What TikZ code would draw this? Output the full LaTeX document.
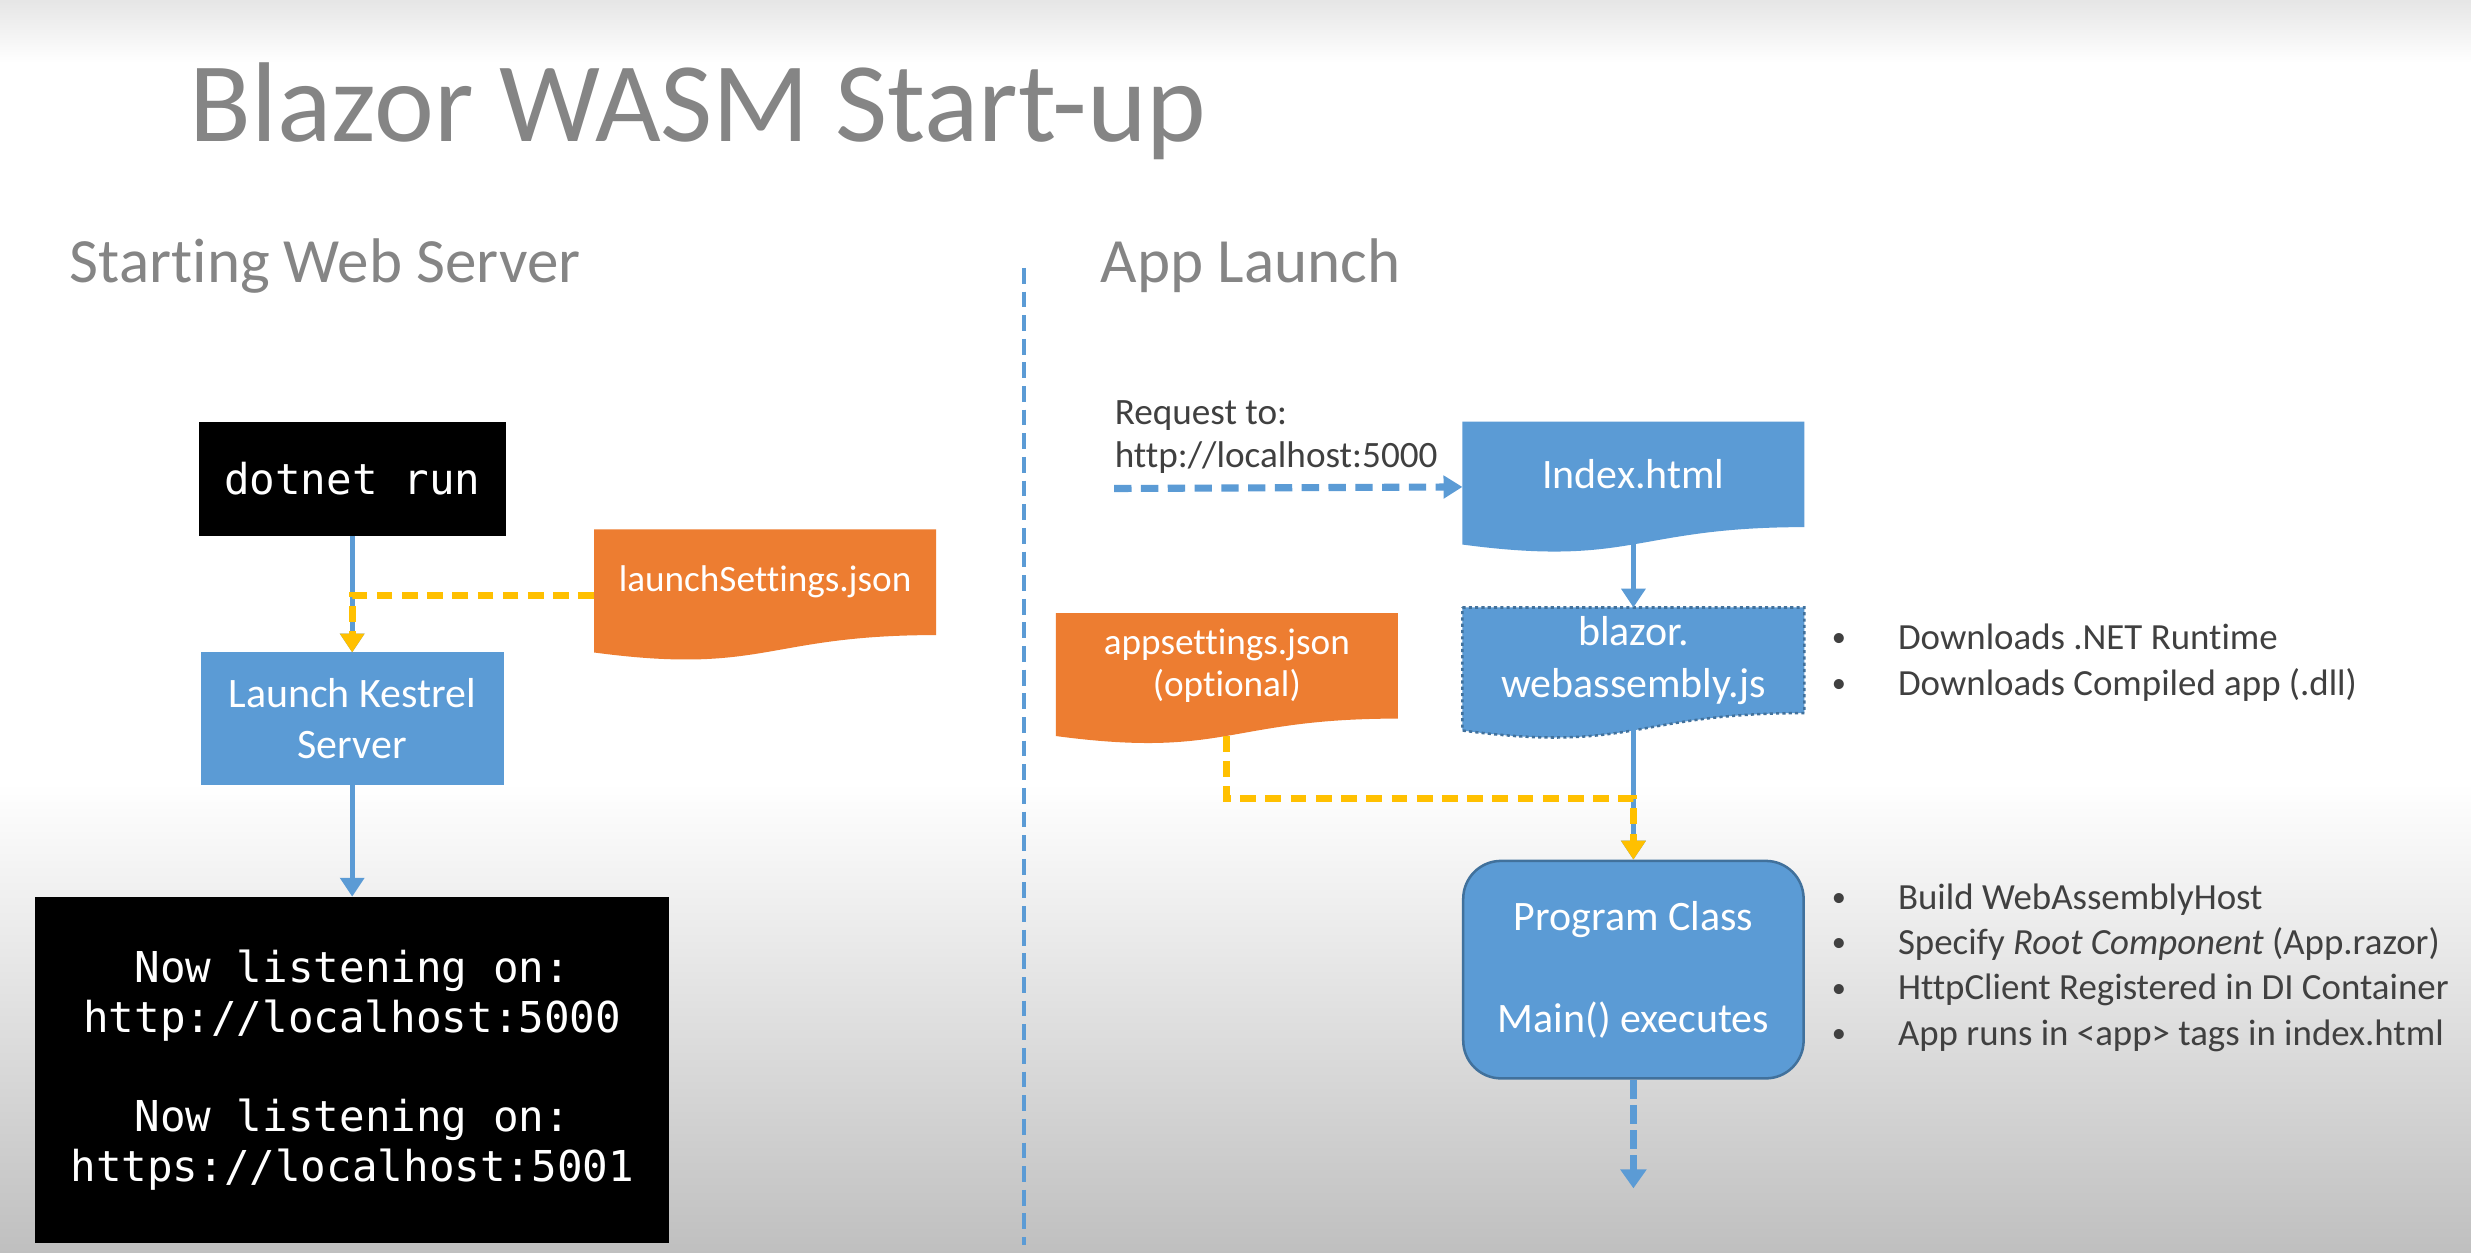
\documentclass[tikz,border=0pt]{standalone}
\usepackage{fontspec}
\setmainfont{Carlito}[Ligatures=NoCommon]
\setmonofont{DejaVu Sans Mono}
\usepackage{tikz}
\usetikzlibrary{arrows.meta, positioning, calc, backgrounds}
\definecolor{mblue}{HTML}{5B9BD5}
\definecolor{medge}{HTML}{41719C}
\definecolor{morange}{HTML}{ED7D31}
\definecolor{myellow}{HTML}{FFC000}
\definecolor{mgray}{HTML}{858585}
\definecolor{mtext}{HTML}{404040}
\pgfdeclarelayer{paper}
\pgfsetlayers{paper,background,main}
\tikzstyle{console} = [rectangle, fill=black, text=white, align=center, outer sep=0pt, font=\ttfamily\fontsize{13.5}{15.75}\selectfont]
\tikzstyle{action} = [rectangle, minimum width=96pt, minimum height=42pt, fill=mblue, text=white, align=center, outer sep=0pt, font=\fontsize{13.3}{16}\selectfont]
\tikzstyle{page} = [rectangle, minimum width=108.5pt, minimum height=33.5pt, inner sep=0pt, outer sep=0pt, text=white, align=center, font=\fontsize{13.3}{16.5}\selectfont]
\tikzstyle{config} = [page, font=\fontsize{11.8}{13.5}\selectfont]
\tikzstyle{entry} = [rectangle, rounded corners=12pt, minimum width=108pt, minimum height=69pt, fill=mblue, draw=medge, line width=0.8pt, text=white, align=center, font=\fontsize{13.3}{16}\selectfont]
\tikzstyle{notes} = [anchor=west, inner sep=0pt, align=left, text=mtext, font=\fontsize{11.7}{14.4}\selectfont]
\tikzstyle{heading} = [anchor=base west, inner sep=0pt, text=mgray]
\tikzstyle{wire} = [line width=1.5pt, mblue, -{Triangle[width=7.5pt,length=6pt]}]
\tikzstyle{feed} = [line width=2.25pt, myellow, dash pattern=on 5pt off 3pt, -{Triangle[width=7.5pt,length=6pt]}]
\tikzstyle{request} = [line width=2.25pt, mblue, dash pattern=on 5.5pt off 3pt, -{Triangle[width=7pt,length=6pt]}]
\tikzstyle{flow} = [line width=2pt, mblue, dash pattern=on 6pt off 2pt, -{Triangle[width=8pt,length=6pt]}]
\tikzstyle{divider} = [line width=1.3pt, mblue, dash pattern=on 5pt off 2.5pt]
% wavy document outline behind a node
\newcommand{\docshape}[2]{%
  \begin{pgfonlayer}{background}
    \path[#2] (#1.north west) -- (#1.north east) -- (#1.south east)
      .. controls (#1.south) and ($(#1.north)!1.381!(#1.south)$)
      .. ($(#1.north west)!1.165!(#1.south west)$) -- cycle;
  \end{pgfonlayer}}
\newcommand{\bitem}[1]{\makebox[21pt][l]{\raisebox{0.9pt}{\fontsize{9}{9}\selectfont\textbullet}}#1}

\begin{document}
\begin{tikzpicture}[x=0.5pt, y=-0.5pt, node distance=25pt]
  \begin{pgfonlayer}{paper}
    \fill[white] (0,0) rectangle (1568,795);
    \shade[top color=black!10, bottom color=white] (0,0) rectangle (1568,40);
    \shade[top color=white, bottom color=black!25] (0,497) rectangle (1568,795);
  \end{pgfonlayer}
  \useasboundingbox (0,0) rectangle (1568,795);
  % titles
  \node (title) [heading, font=\fontsize{36}{43}\selectfont] at (120,90) {Blazor WASM Start-up};
  \node (server) [heading, font=\fontsize{20}{24}\selectfont] at (44,179) {Starting Web Server};
  \node (launch) [heading, font=\fontsize{20}{24}\selectfont] at (698,179) {App Launch};
  \draw [divider] (650,170) -- (650,790);
  % web server
  \node (dotnet) [console, minimum width=97.5pt, minimum height=36pt] at (223.5,304) {dotnet run};
  \node (kestrel) [action, below=37pt of dotnet] {Launch Kestrel\\Server};
  \node (listen) [console, minimum width=201pt, minimum height=110pt, below=35.5pt of kestrel] {Now listening on:\\http://localhost:5000\\[15.75pt]Now listening on:\\https://localhost:5001};
  \node (lsjson) [config] at (485.5,369.5) {launchSettings.json};
  \docshape{lsjson}{fill=morange}
  \draw [wire] (dotnet) -- (kestrel);
  \draw [feed] ($(lsjson.west)+(0,8.5)$) -| (kestrel.north);
  \draw [wire] (kestrel) -- (listen);
  % app launch
  \node (req) [notes, font=\fontsize{11.8}{13.5}\selectfont] at (707,277.5) {Request to:\\http://localhost:5000};
  \node (idx) [page] at (1036.5,301) {Index.html};
  \node (blz) [page, below=25.5pt of idx] {blazor.\\webassembly.js};
  \node (appjs) [config] at (778.5,422.5) {appsettings.json\\(optional)};
  \node (prog) [entry, below=46.5pt of blz] {Program Class\\[16.5pt]Main() executes};
  \coordinate (reqtail) at (707,310);
  \coordinate (progend) at ($(prog.south)+(0,69)$);
  \docshape{idx}{fill=mblue}
  \docshape{blz}{fill=mblue, draw=medge, line width=0.8pt, dash pattern=on 1pt off 1pt}
  \docshape{appjs}{fill=morange}
  \draw [request] (reqtail) -- ($(idx.west)+(0,8)$);
  \draw [wire] (idx) -- (blz);
  \draw [wire] (blz) -- (prog);
  \draw [feed] ($(appjs.south)+(0,11)$) |- ($(prog.north)+(0,-39)$) -- (prog.north);
  \draw [flow] (prog) -- (progend);
  \node (dl) [notes] at (1162,420.5) {\bitem{Downloads .NET Runtime}\\\bitem{Downloads Compiled app (.dll)}};
  \node (steps) [notes] at (1162,614) {\bitem{Build WebAssemblyHost}\\\bitem{Specify \textit{Root Component} (App.razor)}\\\bitem{HttpClient Registered in DI Container}\\\bitem{App runs in <app> tags in index.html}};
\end{tikzpicture}
\end{document}
